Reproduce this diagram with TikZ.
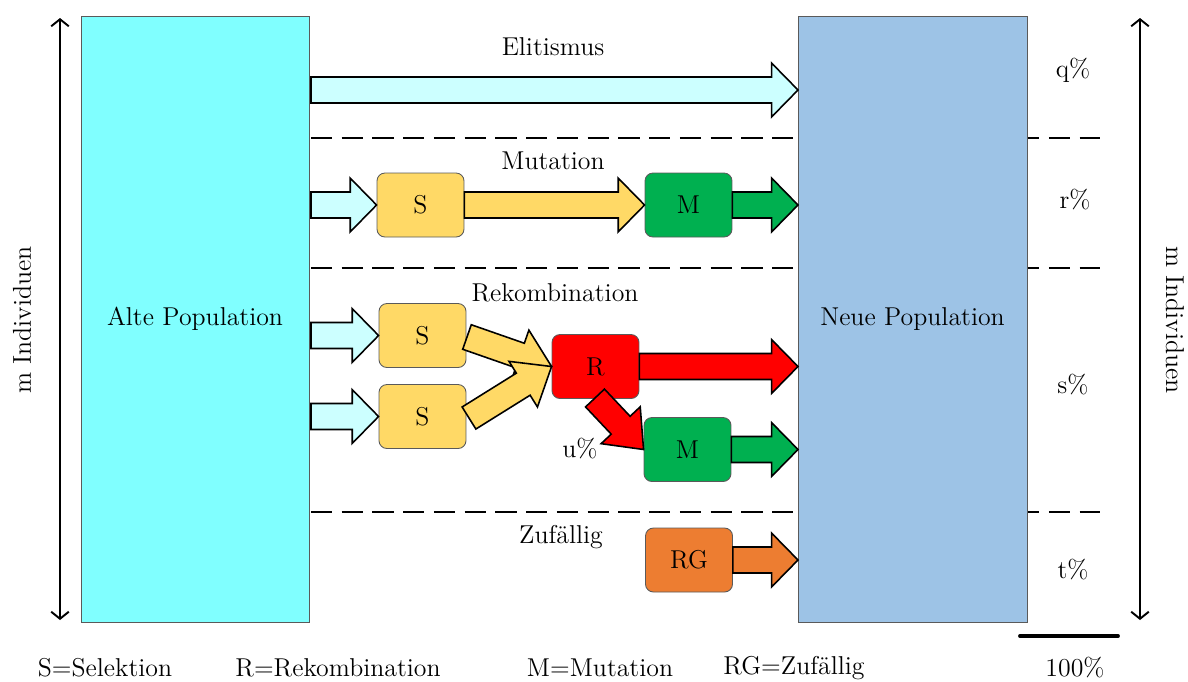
\documentclass[tikz,border=0pt]{standalone}
\usepackage{fontspec}
\usetikzlibrary{calc,arrows.meta}
\definecolor{cyanbox}{RGB}{128,255,255}
\definecolor{bluebox}{RGB}{157,195,230}
\definecolor{lcyan}{RGB}{204,255,255}
\definecolor{sy}{RGB}{255,217,102}
\definecolor{mg}{RGB}{0,176,80}
\definecolor{rr}{RGB}{255,0,0}
\definecolor{og}{RGB}{237,125,49}
\definecolor{bord}{RGB}{90,90,90}
% block arrow: from, to, fill, head length
\newcommand\barrow[4][15pt]{%
  \coordinate (bT) at ($(#3)!#1!(#2)$);
  \draw[barrowline, fill=#4]
    ($(#2)!7.4pt!90:(#3)$) -- ($(bT)!7.4pt!-90:(#2)$) -- ($(bT)!15.3pt!-90:(#2)$) -- (#3)
    -- ($(bT)!15.3pt!90:(#2)$) -- ($(bT)!7.4pt!90:(#2)$) -- ($(#2)!7.4pt!-90:(#3)$) -- cycle;
}
\begin{document}
\begin{tikzpicture}[x=0.02cm,y=-0.02cm, font=\fontsize{14.7}{17.6}\selectfont,
  pop/.style={draw=bord, line width=0.5pt, inner sep=0pt, minimum width=4.56cm, minimum height=12.12cm},
  box/.style={draw=bord, line width=0.5pt, rounded corners=4.5pt, minimum width=1.74cm, minimum height=1.28cm, inner sep=0pt},
  barrowline/.style={draw=black, line width=0.9pt, line join=miter},
  sepline/.style={line width=1.1pt, dash pattern=on 12pt off 5.5pt},
  dbl/.style={line width=1.1pt, {Straight Barb[length=4pt,width=10pt]}-{Straight Barb[length=4pt,width=10pt]}},
  lbl/.style={inner sep=0pt}]
\useasboundingbox (0,0) rectangle (1188,681);

% separators
\draw[sepline] (311,138) -- (1100,138);
\draw[sepline] (311,268) -- (1100,268);
\draw[sepline] (311,512) -- (1100,512);

% populations
\node[pop, fill=cyanbox] (alte) at (195,319) {Alte Population};
\node[pop, fill=bluebox, minimum width=4.58cm] (neue) at (912.5,319) {Neue Population};

% side arrows
\coordinate (l1) at (60,18); \coordinate (l2) at (60,620);
\draw[dbl] (l1) -- (l2);
\coordinate (r1) at (1140,18); \coordinate (r2) at (1140,620);
\draw[dbl] (r1) -- (r2);
\node[lbl, rotate=90] (mleft) at (22,320) {m Individuen};
\node[lbl, rotate=-90] (mright) at (1175,320) {m Individuen};

% Elitismus
\node[lbl] (telit) at (553,47) {Elitismus};
\coordinate (e1) at (311,90);
\coordinate (e2) at (798,90);
\barrow{e1}{e2}{lcyan}

% Mutation
\node[lbl] (tmut) at (553,161) {Mutation};
\node[box, fill=sy] (S0) at (420.5,205) {S};
\node[box, fill=mg] (M0) at (688.5,205) {M};
\coordinate (m1) at (311,205);
\coordinate (m2) at (798,205);
\barrow{m1}{S0.west}{lcyan}
\barrow{S0.east}{M0.west}{sy}
\barrow{M0.east}{m2}{mg}

% Rekombination
\node[lbl] (trek) at (555,293) {Rekombination};
\node[box, fill=sy] (S1) at (422.5,335.5) {S};
\node[box, fill=sy] (S2) at (422.5,416.5) {S};
\node[box, fill=rr] (R) at (595.5,366.5) {R};
\node[box, fill=mg] (M2) at (687.5,449.5) {M};
\coordinate (k1) at (311,335.5);
\coordinate (k2) at (311,416.5);
\coordinate (k3) at (798,366.5);
\coordinate (k4) at (798,449.5);
\coordinate (rs) at (595,398);
\coordinate (s1e) at (467,337);
\coordinate (s2e) at (469,418);
\barrow{k1}{S1.west}{lcyan}
\barrow{k2}{S2.west}{lcyan}
\barrow[19pt]{s1e}{R.west}{sy}
\barrow[19pt]{s2e}{R.west}{sy}
\barrow{R.east}{k3}{rr}
\barrow[19pt]{rs}{M2.west}{rr}
\barrow{M2.east}{k4}{mg}
\node[lbl] (tu) at (580,449) {u\%};

% Zufaellig
\node[lbl] (tzuf) at (561,537) {Zufällig};
\node[box, fill=og] (RG) at (689,560) {RG};
\coordinate (z1) at (798,560);
\barrow{RG.east}{z1}{og}

% percentages
\node[lbl] (pq) at (1073,70) {q\%};
\node[lbl] (pr) at (1075,200) {r\%};
\node[lbl] (ps) at (1073,385) {s\%};
\node[lbl] (pt) at (1073,570) {t\%};

% scale bar
\coordinate (b1) at (1020,636); \coordinate (b2) at (1118,636);
\draw[line width=2.2pt, line cap=round] (b1) -- (b2);
\node[lbl] (p100) at (1075,668) {100\%};

% legend
\node[lbl] (lg1) at (105,668) {S=Selektion};
\node[lbl] (lg2) at (338,668) {R=Rekombination};
\node[lbl] (lg3) at (600,668) {M=Mutation};
\node[lbl] (lg4) at (794,668) {RG=Zufällig};
\end{tikzpicture}
\end{document}
